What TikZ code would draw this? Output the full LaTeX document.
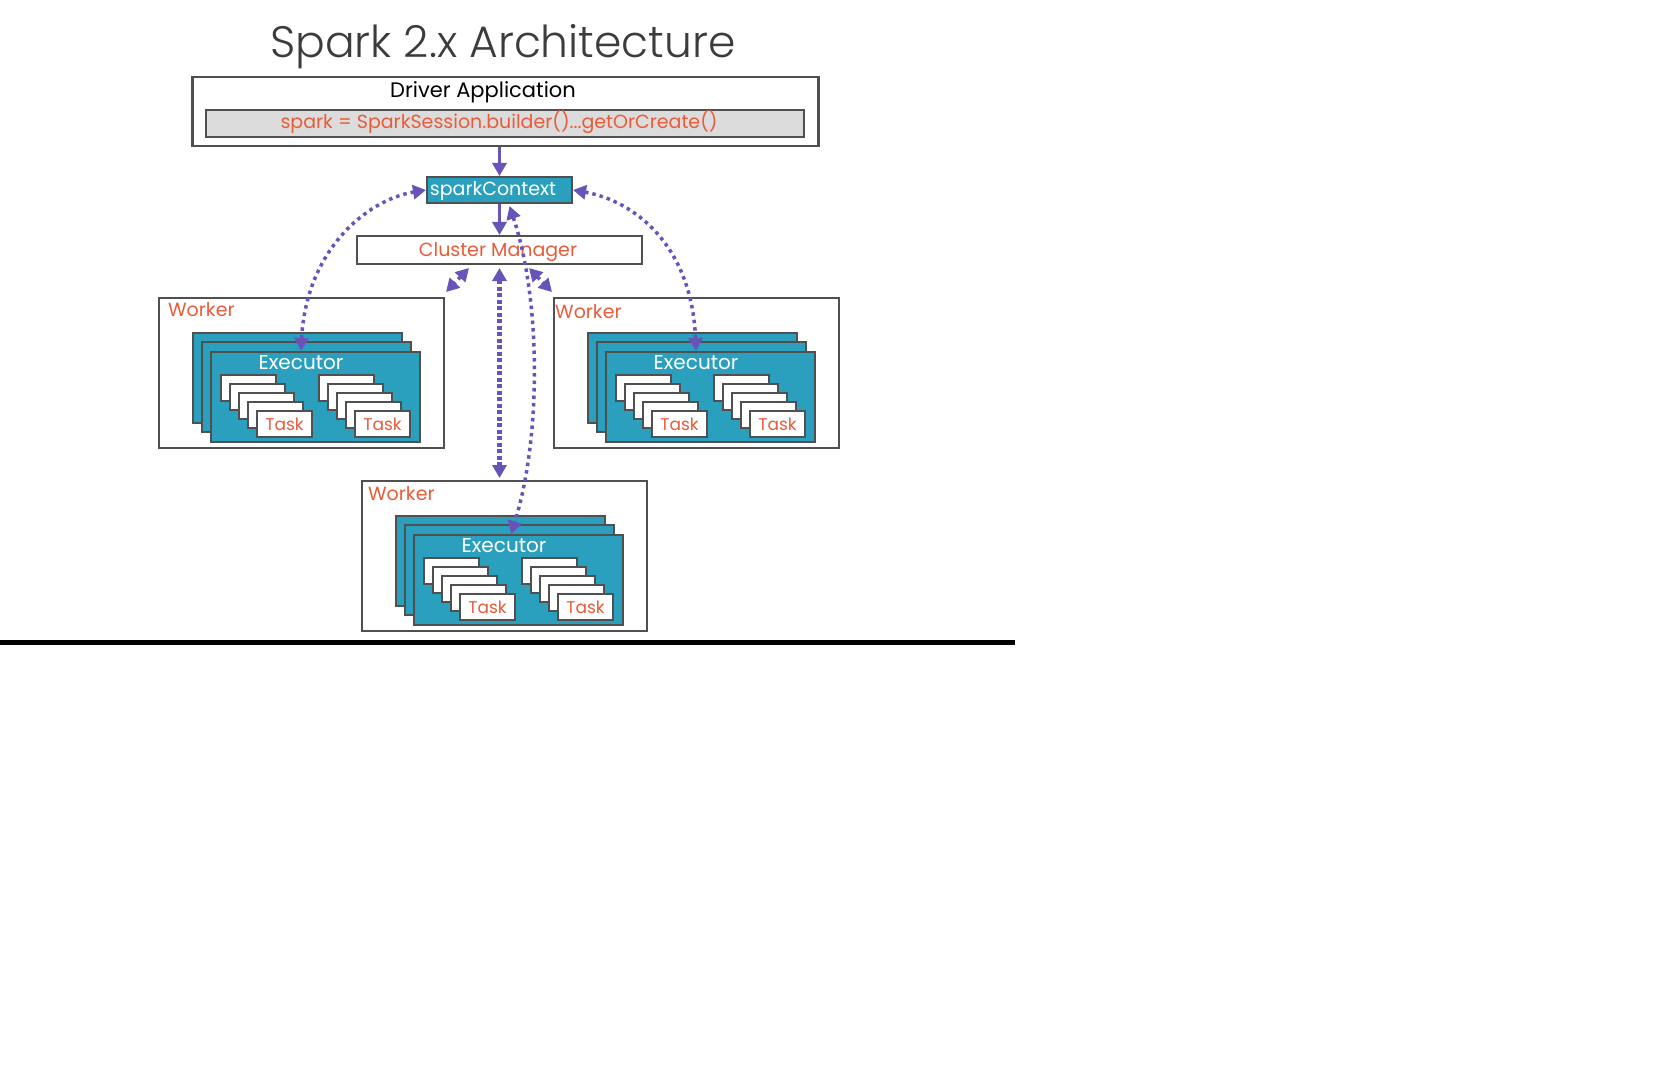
\documentclass[tikz,border=0pt]{standalone}
\usepackage{fontspec}
\setmainfont{Poppins}
\IfFontExistsTF{Poppins Light}{\newfontfamily\titlefont{Poppins Light}}{\newfontfamily\titlefont{Poppins}}
\usetikzlibrary{arrows.meta,calc}
\definecolor{tealc}{RGB}{43,160,190}
\definecolor{purp}{RGB}{104,84,184}
\definecolor{orng}{RGB}{232,92,58}
\definecolor{bgray}{RGB}{80,80,80}
\definecolor{fillgray}{RGB}{220,220,220}
\definecolor{titlec}{RGB}{60,60,60}
\newcommand{\bfz}[1]{\fontsize{#1}{#1}\selectfont}
\newcommand{\wunit}[5]{%
  \node[box, fill=white, minimum width=285, minimum height=150] (#1) at (#2,#3) {};
  \node[lbl, text=orng, anchor=base west] (#1lbl) at (#2+#4,#3+#5) {Worker};
  \node[execbox] (#1e1) at (#2+34,#3+35) {};
  \node[execbox] (#1e2) at (#2+43,#3+44) {};
  \node[execbox] (#1e3) at (#2+52,#3+54) {};
  \node[lbl, text=white, anchor=base, font=\bfz{20}] (#1elbl) at (#2+52+91,#3+54+18) {Executor};
  \foreach \g in {0,1}{
    \foreach \i in {0,...,3}{
      \node[taskbox] (#1t\g\i) at (#2+62+98*\g+9*\i, #3+77+9*\i) {};
    }
    \node[taskbox] (#1t\g4) at (#2+62+98*\g+36, #3+77+36) {Task};
  }
}
\begin{document}
\begin{tikzpicture}[x=1pt,y=-1pt,
  box/.style={draw=bgray,line width=2pt,inner sep=0pt,anchor=north west},
  execbox/.style={box,fill=tealc,minimum width=209,minimum height=90},
  taskbox/.style={box,fill=white,minimum width=55,minimum height=26,text=orng,font=\bfz{17}},
  lbl/.style={inner sep=0pt,font=\bfz{19}},
  solidarrow/.style={draw=purp,line width=3.5pt,-{Triangle[length=13pt,width=14pt]}},
  dotarrow/.style={draw=purp,line width=3.5pt,dash pattern=on 3.5pt off 4pt,{Triangle[length=13pt,width=14pt]}-{Triangle[length=13pt,width=14pt]}},
  densearrow/.style={dotarrow,line width=5pt,dash pattern=on 4pt off 2.5pt},
]
\path[use as bounding box, fill=white] (0,0) rectangle (1662,1086);

\node[font=\titlefont\bfz{44}, text=titlec, anchor=base, inner sep=0pt] (title) at (503,58) {Spark 2.x Architecture};

\node[box, line width=2.5pt, minimum width=626, minimum height=69] (driver) at (191,76) {};
\node[lbl, anchor=base, font=\bfz{21}] (drvlbl) at (483,98) {Driver Application};
\node[box, fill=fillgray, minimum width=598, minimum height=27] (sess) at (205,109) {};
\node[inner sep=0pt, anchor=base, text=orng, font=\bfz{19}] (sesslbl) at (499,129) {spark = SparkSession.builder()...getOrCreate()};

\node[box, fill=tealc, minimum width=145, minimum height=26] (sc) at (426,176) {};
\node[lbl, text=white, anchor=base] (sclbl) at (493,196) {sparkContext};

\node[box, fill=white, minimum width=285, minimum height=28] (cm) at (356,235) {};
\node[lbl, text=orng, anchor=base] (cmlbl) at (498,256) {Cluster Manager};

\wunit{wl}{158}{297}{10}{19}
\wunit{wr}{553}{297}{2}{21}
\wunit{wb}{361}{480}{7}{20}

\draw[solidarrow] (sc.north |- driver.south) -- (sc.north);
\draw[solidarrow] (sc.south) -- (cm.north);
\draw[densearrow] ($(cm.south)+(0,3)$) -- ($(cm.south |- wb.north)+(0,-2)$);
\draw[dotarrow] ($(cm.south west)+(113,3)$) -- ($(wl.north east)+(1,-5)$);
\draw[dotarrow] ($(cm.south east)+(-114,3)$) -- ($(wr.north west)+(-1,-5)$);
\draw[dotarrow] (sc.west) .. controls +(-60,10) and +(5,-100) .. ($(wle3.north west)+(91,0)$);
\draw[dotarrow] (sc.east) .. controls +(62,11) and +(-4,-105) .. ($(wre3.north west)+(91,0)$);
\draw[dotarrow] ($(sc.south)+(10,2)$) .. controls +(32,96) and +(30,-95) .. ($(wbe3.north west)+(98,0)$);

\coordinate (rule0) at (0,642.5);
\coordinate (rule1) at (1015,642.5);
\draw[line width=4.5pt] (rule0) -- (rule1);
\end{tikzpicture}
\end{document}
